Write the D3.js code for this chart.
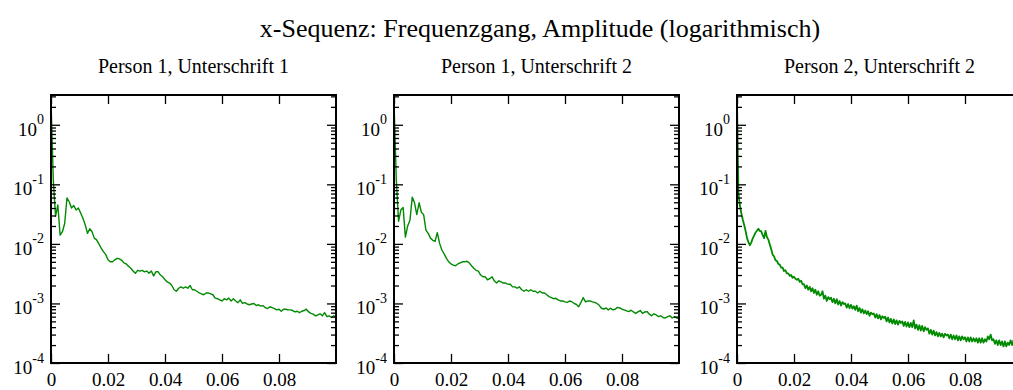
<!DOCTYPE html>
<html>
<head>
<meta charset="utf-8">
<script src="https://cdn.jsdelivr.net/npm/d3@7"></script>
<style>
  body { margin: 0; background: #fff; }
  svg { display: block; }
</style>
</head>
<body>
<svg id="chart" width="1013" height="390"></svg>
<script>
// Titles and tick labels
const chartTitle = "x-Sequenz: Frequenzgang, Amplitude (logarithmisch)";
const panelTitles = ["Person 1, Unterschrift 1", "Person 1, Unterschrift 2", "Person 2, Unterschrift 2"];
const xTickValues = [0, 0.02, 0.04, 0.06, 0.08];
const xTickLabels = ["0", "0.02", "0.04", "0.06", "0.08"];
const yTickExponents = [0, -1, -2, -3, -4];
const xDomain = [0, 0.1];
const yDomain = [1e-4, 3.1623];

// Frequency resolution (normalised frequency per spectrum bin)
const binWidthA = 0.0008; // Person 1 spectra
const binWidthB = 0.0005; // Person 2 spectrum

// Amplitude spectra, one value per bin starting at frequency 0
const ampP1U1 = [
  2.5, 0.12, 0.029, 0.045, 0.014, 0.016, 0.022, 0.059, 0.051, 0.040,
  0.044, 0.037, 0.040, 0.033, 0.027, 0.021, 0.015, 0.018, 0.016, 0.0125,
  0.0117, 0.010, 0.0085, 0.0074, 0.0066, 0.0054, 0.0050, 0.0050, 0.0054, 0.0057,
  0.0056, 0.0053, 0.0048, 0.0046, 0.0042, 0.0039, 0.0035, 0.0032, 0.0036, 0.0035,
  0.0036, 0.0034, 0.0035, 0.0032, 0.0035, 0.0029, 0.0034, 0.0034, 0.0030, 0.0028,
  0.0025, 0.0023, 0.0022, 0.0020, 0.0017, 0.0016, 0.0018, 0.0019, 0.0018, 0.0019,
  0.0018, 0.0020, 0.0017, 0.0017, 0.0016, 0.0015, 0.00145, 0.0014, 0.0015, 0.0015,
  0.00145, 0.0014, 0.00123, 0.0012, 0.00115, 0.0011, 0.0012, 0.00115, 0.00123, 0.0011,
  0.0012, 0.0011, 0.00103, 0.00115, 0.0010, 0.00103, 0.00098, 0.00095, 0.00098, 0.0010,
  0.00092, 0.00095, 0.0009, 0.00092, 0.00085, 0.00082, 0.00088, 0.00085, 0.00082, 0.00078,
  0.0008, 0.00074, 0.0008, 0.0008, 0.00078, 0.00078, 0.00076, 0.00072, 0.00074, 0.0007,
  0.00074, 0.00076, 0.0008, 0.00072, 0.00068, 0.00066, 0.00062, 0.00064, 0.00067, 0.00062,
  0.0007, 0.0006, 0.00062, 0.00058, 0.00062, 0.0006
];

const ampP1U2 = [
  2.5, 0.12, 0.024, 0.037, 0.041, 0.013, 0.020, 0.025, 0.061, 0.049,
  0.031, 0.049, 0.034, 0.031, 0.017, 0.015, 0.0125, 0.0115, 0.011, 0.0155,
  0.0102, 0.0079, 0.0068, 0.0057, 0.0050, 0.0046, 0.0044, 0.0043, 0.0046, 0.0048,
  0.0050, 0.0050, 0.0051, 0.0048, 0.0043, 0.0039, 0.0036, 0.0035, 0.0030, 0.0028,
  0.0028, 0.0025, 0.0026, 0.0028, 0.0024, 0.0022, 0.0024, 0.0023, 0.0022, 0.0022,
  0.0021, 0.0021, 0.0019, 0.0019, 0.0018, 0.0019, 0.0017, 0.0016, 0.0017, 0.0016,
  0.0017, 0.0016, 0.0016, 0.0015, 0.0016, 0.0015, 0.0015, 0.0014, 0.0013, 0.00125,
  0.0012, 0.00122, 0.00115, 0.0011, 0.0011, 0.00106, 0.00104, 0.0011, 0.00107, 0.0010,
  0.00096, 0.00088, 0.00104, 0.00125, 0.00106, 0.0011, 0.0011, 0.00106, 0.00104, 0.0010,
  0.00093, 0.00083, 0.0008, 0.00084, 0.00078, 0.00083, 0.00078, 0.0008, 0.00086, 0.00084,
  0.0008, 0.00078, 0.00075, 0.00073, 0.00077, 0.00072, 0.00068, 0.00072, 0.00076, 0.00068,
  0.00072, 0.00073, 0.00066, 0.00062, 0.00067, 0.00064, 0.0006, 0.00062, 0.00058, 0.00057,
  0.0006, 0.00062, 0.00057, 0.0006, 0.00057, 0.00056
];

const ampP2U2 = [
  2.5, 0.07, 0.045, 0.033, 0.026, 0.021, 0.0166, 0.0126, 0.0107, 0.0095,
  0.0105, 0.0123, 0.0138, 0.0155, 0.0166, 0.018, 0.0165, 0.0162, 0.014, 0.0125,
  0.0165, 0.013, 0.0118, 0.0098, 0.0082, 0.0066, 0.0062, 0.0053, 0.0052, 0.0046,
  0.0045, 0.0040, 0.0040, 0.0035, 0.0036, 0.0032, 0.0032, 0.0029, 0.0030, 0.0027,
  0.0028, 0.0026, 0.0025, 0.0026, 0.0023, 0.0024, 0.0021, 0.0021, 0.0018, 0.0020,
  0.0017, 0.0019, 0.0016, 0.0018, 0.0015, 0.0017, 0.0014, 0.0016, 0.00135, 0.0014,
  0.0016, 0.0012, 0.00135, 0.0011, 0.00128, 0.00118, 0.00125, 0.00105, 0.0012, 0.0010,
  0.00118, 0.00096, 0.0011, 0.00092, 0.00105, 0.00098, 0.0010, 0.00085, 0.00098, 0.00083,
  0.00095, 0.00082, 0.0009, 0.00078, 0.00092, 0.00074, 0.00084, 0.0007, 0.0008, 0.00068,
  0.00076, 0.00066, 0.00074, 0.00062, 0.0007, 0.00066, 0.00068, 0.00058, 0.00066, 0.00056,
  0.00064, 0.00054, 0.00061, 0.00057, 0.0006, 0.0005, 0.00058, 0.00048, 0.00055, 0.00046,
  0.00054, 0.00045, 0.00052, 0.00044, 0.00051, 0.00047, 0.0005, 0.00042, 0.00049, 0.00041,
  0.00048, 0.0004, 0.00047, 0.0004, 0.00052, 0.00038, 0.00044, 0.00036, 0.00043, 0.00035,
  0.00042, 0.00034, 0.0004, 0.00036, 0.00038, 0.00031, 0.00036, 0.0003, 0.00035, 0.00029,
  0.00033, 0.00028, 0.00032, 0.00028, 0.00031, 0.00027, 0.00031, 0.00029, 0.0003, 0.00026,
  0.0003, 0.00025, 0.00029, 0.00025, 0.00029, 0.00024, 0.00028, 0.00024, 0.00028, 0.00025,
  0.00027, 0.00023, 0.00027, 0.00023, 0.00027, 0.00023, 0.00026, 0.00023, 0.00026, 0.00022,
  0.00026, 0.00022, 0.00026, 0.00022, 0.00025, 0.00023, 0.00028, 0.00025, 0.0003, 0.00024,
  0.00025, 0.00021, 0.00024, 0.0002, 0.00024, 0.0002, 0.00023, 0.00019, 0.00023, 0.00019,
  0.00022, 0.0002, 0.00024, 0.0002, 0.00024, 0.00021, 0.00025, 0.0002, 0.00023, 0.0002,
  0.00022
];

const panelSeries = [
  { amp: ampP1U1, bin: binWidthA, width: 1.4 },
  { amp: ampP1U2, bin: binWidthA, width: 1.4 },
  { amp: ampP2U2, bin: binWidthB, width: 1.8 }
];

// Layout
const FONT = "'Liberation Serif', 'Times New Roman', Times, serif";
const lineColor = "#008a00";
const panelLeft = [51, 394, 737];
const panelTop = 95;
const W = 285, H = 268;
const majorLen = 9, minorLen = 5;
const tickFont = 19, supFont = 14;

const svg = d3.select("#chart");
svg.append("rect").attr("width", 1013).attr("height", 390).attr("fill", "#fff");

svg.append("text")
  .attr("x", 540).attr("y", 37)
  .attr("text-anchor", "middle")
  .attr("font-family", FONT).attr("font-size", 26)
  .text(chartTitle);

const x = d3.scaleLinear().domain(xDomain).range([0, W]);
const y = d3.scaleLog().domain(yDomain).range([H, 0]);
const majorY = yTickExponents.map(e => Math.pow(10, e));
const minorY = y.ticks().filter(v => !majorY.some(m => Math.abs(v / m - 1) < 1e-6));

const line = d3.line()
  .x(d => x(d.f))
  .y(d => y(d.a));

panelSeries.forEach((s, p) => {
  const g = svg.append("g").attr("transform", `translate(${panelLeft[p]},${panelTop})`);

  g.append("text")
    .attr("x", W / 2).attr("y", -22)
    .attr("text-anchor", "middle")
    .attr("font-family", FONT).attr("font-size", 20)
    .text(panelTitles[p]);

  const clipId = `clip${p}`;
  g.append("clipPath").attr("id", clipId)
    .append("rect").attr("width", W).attr("height", H);

  const pts = s.amp.map((a, i) => ({ f: i * s.bin, a }));
  g.append("path")
    .datum(pts)
    .attr("clip-path", `url(#${clipId})`)
    .attr("fill", "none")
    .attr("stroke", lineColor)
    .attr("stroke-width", s.width)
    .attr("stroke-linejoin", "round")
    .attr("d", line);

  // tick marks, all pointing into the plot area
  const styleTicks = sel => {
    sel.select(".domain").remove();
    sel.attr("font-family", FONT);
    sel.selectAll(".tick line").attr("stroke", "#000").attr("stroke-width", 1.3);
  };

  g.append("g").attr("transform", `translate(0,${H})`)
    .call(d3.axisBottom(x).tickValues(xTickValues).tickSize(-majorLen).tickSizeOuter(0)
      .tickFormat((d, i) => xTickLabels[i]))
    .call(styleTicks)
    .call(sel => sel.selectAll(".tick text")
      .attr("font-family", FONT).attr("font-size", tickFont).attr("fill", "#000")
      .attr("y", 23).attr("dy", 0));

  g.append("g")
    .call(d3.axisTop(x).tickValues(xTickValues).tickSize(-majorLen).tickSizeOuter(0).tickFormat(""))
    .call(styleTicks);

  g.append("g")
    .call(d3.axisLeft(y).tickValues(minorY).tickSize(-minorLen).tickSizeOuter(0).tickFormat(""))
    .call(styleTicks);
  g.append("g").attr("transform", `translate(${W},0)`)
    .call(d3.axisRight(y).tickValues(minorY).tickSize(-minorLen).tickSizeOuter(0).tickFormat(""))
    .call(styleTicks);
  g.append("g").attr("transform", `translate(${W},0)`)
    .call(d3.axisRight(y).tickValues(majorY).tickSize(-majorLen).tickSizeOuter(0).tickFormat(""))
    .call(styleTicks);

  const yAx = g.append("g")
    .call(d3.axisLeft(y).tickValues(majorY).tickSize(-majorLen).tickSizeOuter(0))
    .call(styleTicks);
  yAx.selectAll(".tick text").each(function (d, i) {
    const t = d3.select(this);
    t.text(null)
      .attr("font-family", FONT).attr("font-size", tickFont).attr("fill", "#000")
      .attr("text-anchor", "end")
      .attr("x", -7).attr("y", 10.5).attr("dy", 0);
    t.append("tspan").text("10");
    t.append("tspan").attr("font-size", supFont).attr("dy", -11.5).text(String(yTickExponents[i]));
  });

  // frame
  g.append("rect")
    .attr("width", W).attr("height", H)
    .attr("fill", "none").attr("stroke", "#000").attr("stroke-width", 2);
});
</script>
</body>
</html>
